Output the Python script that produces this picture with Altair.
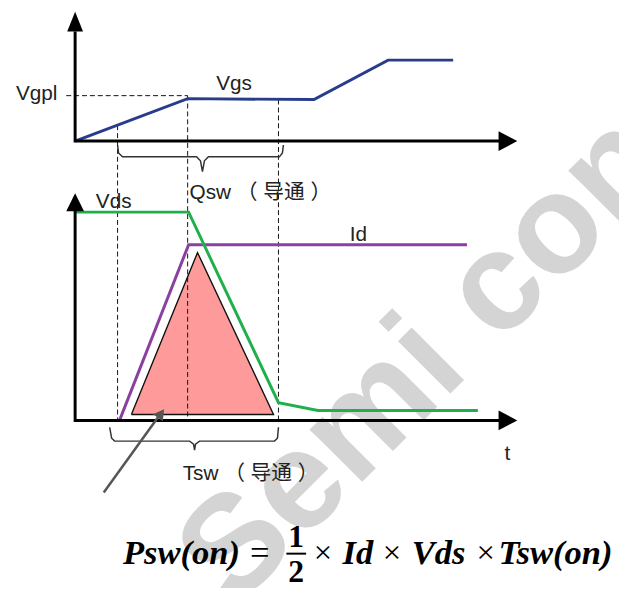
import altair as alt
import pandas as pd

# ---------------- data (diagram coordinates) ----------------
# top panel: gate-source voltage Vgs
vgs_t = [76, 190, 318, 393, 459]
vgs_v = [139, 96, 97, 57, 57]
# bottom panel: drain-source voltage Vds and drain current Id
vds_t = [76, 191, 282, 322, 484]
vds_v = [211, 211, 404, 412, 412]
id_t = [121, 191, 473]
id_v = [422, 244, 244]
# switching-loss triangle
loss_t = [133, 200, 277, 133]
loss_v = [416, 252, 416, 416]
# dashed reference lines
dash_x = [119, 119, 190, 190, 282, 282, 67, 190]
dash_y = [123, 422, 93, 422, 97, 422, 93, 93]
dash_id = [0, 0, 1, 1, 2, 2, 3, 3]
# axes (L-shaped) for both panels
axis_x = [76, 76, 506, 76, 76, 506]
axis_y = [28, 139, 139, 209, 422, 422]
axis_id = [0, 0, 0, 1, 1, 1]
# arrow heads
up_x = [68, 76, 84, 67, 76, 85]
up_y = [28, 8, 28, 210, 192, 210]
up_y2 = [28, 28, 28, 210, 210, 210]
up_id = [0, 0, 0, 1, 1, 1]
rt_y = [129, 139, 149, 412, 422, 432]
rt_x = [505, 524, 505, 505, 524, 505]
rt_x2 = [505, 505, 505, 505, 505, 505]
rt_id = [0, 0, 0, 1, 1, 1]
# braces
brace_x = [119, 120, 124, 199, 203, 205, 207, 211, 283, 286, 287,
           111, 113, 116, 192, 196, 197, 198, 202, 278, 281, 282]
brace_y = [143, 151, 155, 155, 159, 170, 159, 155, 155, 151, 143,
           429, 440, 443, 443, 446, 452, 446, 443, 443, 440, 429]
brace_id = [0] * 11 + [1] * 11
# pointer arrow
ptr_x = [105, 162]
ptr_y = [495, 416]
# labels
lab_left = ["Vds", "Qsw （ 导通 ）", "Tsw （ 导通 ）"]
lab_left_x = [97, 192, 185]
lab_left_y = [207, 198, 482]
lab_center = ["Vgs", "Id", "t"]
lab_center_x = [237, 363, 514]
lab_center_y = [87, 240, 462]
lab_right = ["Vgpl"]
lab_right_x = [58]
lab_right_y = [97]
# formula pieces
f_bi = ["Psw(on)", "Id", "Vds", "Tsw(on)"]
f_bi_x = [243, 347, 417, 505]
f_bi_align = ["right", "left", "left", "left"]
f_times_x = [327, 397, 492]
f_frac = ["1", "2"]
f_frac_y = [550, 586]
# watermark
wm_text = ["Semi cond"]
wm_x = [237]
wm_y = [614]

W, H = 619, 580
OX, OY = 8, 8
xsc = alt.Scale(domain=[OX, OX + W], zero=False, nice=False)
ysc = alt.Scale(domain=[OY, OY + H], zero=False, nice=False, reverse=True)

SANS = "Liberation Sans, Arial, 'Noto Sans CJK SC', sans-serif"
SERIF = "Liberation Serif, 'Times New Roman', serif"


def X(f="x"):
    return alt.X(f"{f}:Q", scale=xsc, axis=None)


def Y(f="y"):
    return alt.Y(f"{f}:Q", scale=ysc, axis=None)


def path(xs, ys, ids=None, **mk):
    df = pd.DataFrame({"x": xs, "y": ys, "o": list(range(len(xs)))})
    df["g"] = ids if ids is not None else 0
    return alt.Chart(df).mark_line(**mk).encode(
        x=X(), y=Y(), order="o:Q", detail="g:N")


layers = []

# watermark
layers.append(alt.Chart(pd.DataFrame({"t": wm_text, "x": wm_x, "y": wm_y}))
              .mark_text(font=SANS, fontWeight="bold", fontSize=142, angle=315,
                         align="left", baseline="alphabetic", color="#d4d4d4")
              .encode(x=X(), y=Y(), text="t:N"))

# loss triangle
tri = pd.DataFrame({"x": loss_t[:3], "y": loss_v[:3], "y2": [416, 416, 416]})
layers.append(alt.Chart(tri).mark_area(color="#ff9a9a", opacity=1, interpolate="linear")
              .encode(x=X(), y=Y(), y2="y2:Q"))
layers.append(path(loss_t, loss_v, color="#111111", strokeWidth=1.4, strokeJoin="miter"))

# dashed reference lines
layers.append(path(dash_x, dash_y, dash_id, color="#111111", strokeWidth=1, strokeDash=[5, 3]))

# waveforms
layers.append(path(vgs_t, vgs_v, color="#283c8c", strokeWidth=3))
layers.append(path(id_t, id_v, color="#8b3fa0", strokeWidth=3))
layers.append(path(vds_t, vds_v, color="#1fb04c", strokeWidth=3))

# axes
layers.append(path(axis_x, axis_y, axis_id, color="#000000", strokeWidth=3, strokeJoin="miter"))
up = pd.DataFrame({"x": up_x, "y": up_y, "y2": up_y2, "g": up_id})
layers.append(alt.Chart(up).mark_area(color="#000000", opacity=1)
              .encode(x=X(), y=Y(), y2="y2:Q", detail="g:N"))
rt = pd.DataFrame({"x": rt_x, "x2": rt_x2, "y": rt_y, "g": rt_id})
layers.append(alt.Chart(rt).mark_area(color="#000000", opacity=1, orient="horizontal")
              .encode(y=Y(), x=X(), x2="x2:Q", detail="g:N"))

# braces
layers.append(path(brace_x, brace_y, brace_id, color="#333333", strokeWidth=1.5))

# pointer arrow
layers.append(path(ptr_x, ptr_y, color="#555555", strokeWidth=2.5))
layers.append(alt.Chart(pd.DataFrame({"x": [163], "y": [415]}))
              .mark_point(shape="triangle-up", angle=36, size=150, filled=True,
                          color="#555555", opacity=1)
              .encode(x=X(), y=Y()))

# labels
for txt, xs, ys, al in [(lab_left, lab_left_x, lab_left_y, "left"),
                        (lab_center, lab_center_x, lab_center_y, "center"),
                        (lab_right, lab_right_x, lab_right_y, "right")]:
    layers.append(alt.Chart(pd.DataFrame({"t": txt, "x": xs, "y": ys}))
                  .mark_text(font=SANS, fontSize=21, align=al, baseline="alphabetic",
                             color="#222222")
                  .encode(x=X(), y=Y(), text="t:N"))

# formula
for t, x, al in zip(f_bi, f_bi_x, f_bi_align):
    layers.append(alt.Chart(pd.DataFrame({"t": [t], "x": [x], "y": [567]}))
                  .mark_text(font=SERIF, fontSize=35, fontWeight="bold", fontStyle="italic",
                             align=al, baseline="alphabetic", color="#000000")
                  .encode(x=X(), y=Y(), text="t:N"))
layers.append(alt.Chart(pd.DataFrame({"t": ["="], "x": [263], "y": [567]}))
              .mark_text(font=SERIF, fontSize=35, align="center", baseline="alphabetic",
                         color="#000000")
              .encode(x=X(), y=Y(), text="t:N"))
layers.append(alt.Chart(pd.DataFrame({"t": ["×"] * 3, "x": f_times_x, "y": [566] * 3}))
              .mark_text(font=SERIF, fontSize=33, align="center", baseline="alphabetic",
                         color="#000000")
              .encode(x=X(), y=Y(), text="t:N"))
layers.append(alt.Chart(pd.DataFrame({"t": f_frac, "x": [300, 300], "y": f_frac_y}))
              .mark_text(font=SERIF, fontSize=32, fontWeight="bold", align="center",
                         baseline="alphabetic", color="#000000")
              .encode(x=X(), y=Y(), text="t:N"))
layers.append(alt.Chart(pd.DataFrame({"x": [290], "x2": [310], "y": [557]}))
              .mark_rule(color="#000000", strokeWidth=2)
              .encode(x=X(), x2="x2:Q", y=Y()))

chart = (alt.layer(*layers)
         .properties(width=W, height=H, padding=0, autosize=alt.AutoSizeParams(type="none"))
         .configure(background="white", view=alt.ViewConfig(strokeWidth=0, stroke=None)))

chart.save("out.html", embed_options={"renderer": "svg", "actions": False})
